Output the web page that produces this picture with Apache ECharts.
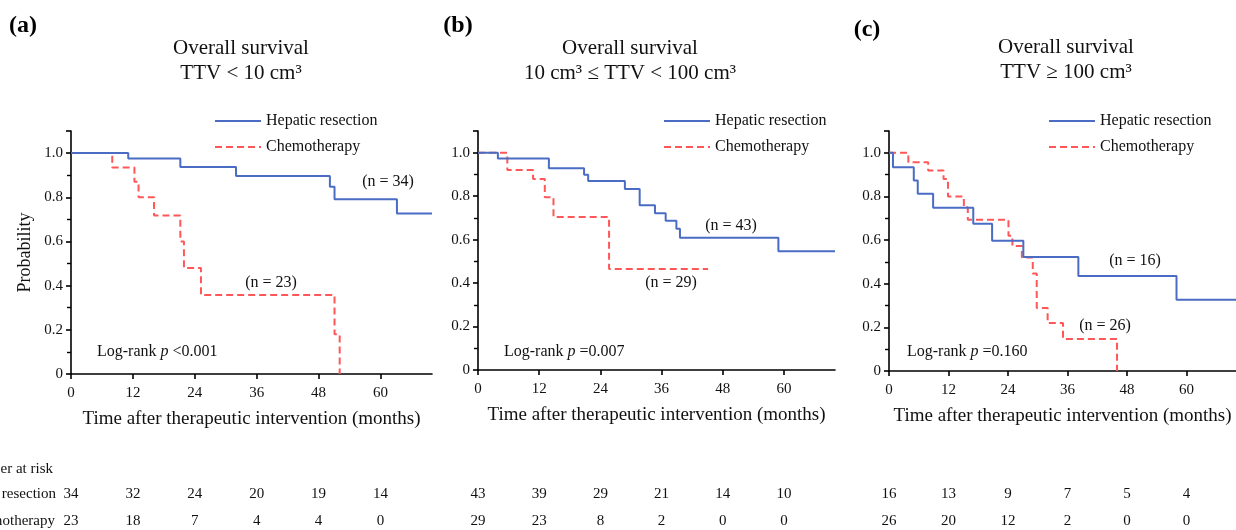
<!DOCTYPE html>
<html>
<head>
<meta charset="utf-8">
<script src="https://cdn.jsdelivr.net/npm/echarts@6/dist/echarts.min.js"></script>
<style>
html,body{margin:0;padding:0;background:#fff;}
#chart{width:1236px;height:530px;}
</style>
</head>
<body>
<div id="chart"></div>
<script>
// ---- Data ----
const monthTicks = [0, 12, 24, 36, 48, 60];
const probTicks = [0, 0.2, 0.4, 0.6, 0.8, 1.0];

// Panel (a) TTV < 10 cm3
const aResTime   = [0, 11.1, 21.2, 32.0, 50.2, 51.1, 63.2, 70];
const aResSurv   = [1.0, 0.975, 0.937, 0.896, 0.848, 0.791, 0.727, 0.727];
const aChemoTime = [0, 8.0, 12.3, 13.1, 16.1, 21.2, 21.9, 25.2, 51.1, 52.1];
const aChemoSurv = [1.0, 0.935, 0.87, 0.80, 0.717, 0.60, 0.48, 0.358, 0.18, 0];

// Panel (b) 10 <= TTV < 100 cm3
const bResTime   = [0, 3.9, 13.9, 20.8, 21.6, 28.8, 31.7, 34.7, 36.8, 38.9, 39.6, 58.9, 70];
const bResSurv   = [1.0, 0.974, 0.928, 0.899, 0.870, 0.833, 0.758, 0.722, 0.687, 0.650, 0.609, 0.546, 0.546];
const bChemoTime = [0, 5.75, 10.8, 13.1, 14.8, 25.7, 45.1];
const bChemoSurv = [1.0, 0.920, 0.879, 0.795, 0.704, 0.465, 0.465];

// Panel (c) TTV >= 100 cm3
const cResTime   = [0, 0.8, 5.0, 5.8, 8.9, 17.0, 20.8, 27.1, 38.2, 58.0, 70];
const cResSurv   = [1.0, 0.934, 0.873, 0.812, 0.748, 0.675, 0.597, 0.522, 0.435, 0.327, 0.327];
const cChemoTime = [0, 3.9, 7.9, 11.0, 11.9, 15.1, 15.9, 24.1, 24.9, 26.8, 29.0, 29.8, 32.0, 35.1, 46.0];
const cChemoSurv = [1.0, 0.957, 0.919, 0.88, 0.80, 0.75, 0.693, 0.62, 0.573, 0.52, 0.447, 0.289, 0.22, 0.147, 0];

// Number at risk
const aRiskRes   = [34, 32, 24, 20, 19, 14];
const aRiskChemo = [23, 18, 7, 4, 4, 0];
const bRiskRes   = [43, 39, 29, 21, 14, 10];
const bRiskChemo = [29, 23, 8, 2, 0, 0];
const cRiskRes   = [16, 13, 9, 7, 5, 4];
const cRiskChemo = [26, 20, 12, 2, 0, 0];

const panelLetters = ['(a)', '(b)', '(c)'];
const titleLine1 = ['Overall survival', 'Overall survival', 'Overall survival'];
const titleLine2 = ['TTV < 10 cm³', '10 cm³ ≤ TTV < 100 cm³', 'TTV ≥ 100 cm³'];
const nResLabels = ['(n = 34)', '(n = 43)', '(n = 16)'];
const nChemoLabels = ['(n = 23)', '(n = 29)', '(n = 26)'];
const pValueText = ['<0.001', '=0.007', '=0.160'];
const seriesNames = ['Hepatic resection', 'Chemotherapy'];
const xTitle = 'Time after therapeutic intervention (months)';

// ---- Build ----
const FONT = '"Liberation Serif", "Times New Roman", serif';
const BLUE = '#4a6cc4';
const RED = '#ff5757';
const zip = (t, s) => t.map((v, i) => [v, s[i]]);

const resData = [zip(aResTime, aResSurv), zip(bResTime, bResSurv), zip(cResTime, cResSurv)];
const chemoData = [zip(aChemoTime, aChemoSurv), zip(bChemoTime, bChemoSurv), zip(cChemoTime, cChemoSurv)];
const riskRes = [aRiskRes, bRiskRes, cRiskRes];
const riskChemo = [aRiskChemo, bRiskChemo, cRiskChemo];

const grids = [
  {left: 71, top: 131, width: 361, height: 243},
  {left: 478, top: 131, width: 357, height: 239},
  {left: 889, top: 131, width: 356, height: 240}
];

const chart = echarts.init(document.getElementById('chart'), null, {renderer: 'canvas'});

const axisLineStyle = {color: '#000', width: 1.6};
const xAxes = grids.map((g, i) => ({
  type: 'value', gridIndex: i, min: 0, max: 70, interval: 12,
  axisLine: {show: true, onZero: false, lineStyle: axisLineStyle},
  axisTick: {show: true, length: 5, inside: false, lineStyle: axisLineStyle, customValues: monthTicks},
  axisLabel: {show: true, margin: 12, color: '#111', fontFamily: FONT, fontSize: 15, customValues: monthTicks},
  splitLine: {show: false},
  name: xTitle, nameLocation: 'middle', nameGap: 36,
  nameTextStyle: {color: '#111', fontFamily: FONT, fontSize: 19}
}));
const yAxes = grids.map((g, i) => ({
  type: 'value', gridIndex: i, min: 0, max: 1.1, interval: 0.2,
  axisLine: {show: true, onZero: false, lineStyle: axisLineStyle},
  axisTick: {show: true, length: 5, lineStyle: axisLineStyle},
  minorTick: {show: true, splitNumber: 2, length: 4, lineStyle: {color: '#000', width: 1.4}},
  axisLabel: {show: true, margin: 8, color: '#111', fontFamily: FONT, fontSize: 15,
    customValues: probTicks,
    formatter: v => (v === 0 ? '0' : v.toFixed(1))},
  splitLine: {show: false},
  name: i === 0 ? 'Probability' : '', nameLocation: 'middle', nameGap: 37,
  nameTextStyle: {color: '#111', fontFamily: FONT, fontSize: 18}
}));

const series = [];
for (let i = 0; i < 3; i++) {
  series.push({
    name: seriesNames[0], type: 'line', step: 'end', symbol: 'none', showSymbol: false,
    xAxisIndex: i, yAxisIndex: i, data: resData[i], z: 3,
    lineStyle: {color: BLUE, width: 2, type: 'solid'}, itemStyle: {color: BLUE}
  });
  series.push({
    name: seriesNames[1], type: 'line', step: 'end', symbol: 'none', showSymbol: false,
    xAxisIndex: i, yAxisIndex: i, data: chemoData[i], z: 2,
    lineStyle: {color: RED, width: 2, type: [7, 4]}, itemStyle: {color: RED}
  });
}

const legendLefts = [214, 663, 1048];
const legends = legendLefts.map(l => ({
  left: l, top: 113, padding: 0, orient: 'vertical', itemWidth: 46, itemHeight: 14, itemGap: 10,
  selectedMode: false,
  itemStyle: {opacity: 0, borderWidth: 0},
  data: seriesNames,
  textStyle: {color: '#111', fontFamily: FONT, fontSize: 16, padding: [0, 0, 0, 0]}
}));

chart.setOption({
  animation: false,
  backgroundColor: '#fff',
  grid: grids.map(g => Object.assign({containLabel: false}, g)),
  xAxis: xAxes,
  yAxis: yAxes,
  legend: legends,
  series: series
});

// ---- Text overlays ----
const txt = (x, y, text, opts) => ({
  type: 'text', x: x, y: y, silent: true,
  style: Object.assign({text: text, fill: '#111', font: '16px ' + FONT,
    textAlign: 'center', textVerticalAlign: 'middle'}, opts || {})
});

const gfx = [];
const letterPos = [[23, 26], [458, 26], [867, 30]];
const titleX = [241, 630, 1066];
const titleY = [[48, 73], [48, 73], [47, 72]];
const nResPos = [[388, 182], [731, 226], [1135, 261]];
const nChemoPos = [[271, 283], [671, 283], [1105, 326]];
const logRankPos = [[97, 352], [504, 352], [907, 352]];

for (let i = 0; i < 3; i++) {
  gfx.push(txt(letterPos[i][0], letterPos[i][1], panelLetters[i], {font: 'bold 24px ' + FONT, fill: '#000'}));
  gfx.push(txt(titleX[i], titleY[i][0], titleLine1[i], {font: '21px ' + FONT}));
  gfx.push(txt(titleX[i], titleY[i][1], titleLine2[i], {font: '21px ' + FONT}));
  gfx.push(txt(nResPos[i][0], nResPos[i][1], nResLabels[i]));
  gfx.push(txt(nChemoPos[i][0], nChemoPos[i][1], nChemoLabels[i]));
  gfx.push({
    type: 'text', x: logRankPos[i][0], y: logRankPos[i][1], silent: true,
    style: {
      text: '{n|Log-rank }{i|p}{n| ' + pValueText[i] + '}',
      textAlign: 'left', textVerticalAlign: 'middle',
      rich: {
        n: {font: '16px ' + FONT, fill: '#111'},
        i: {font: 'italic 16px ' + FONT, fill: '#111'}
      }
    }
  });
  // number at risk
  for (let k = 0; k < monthTicks.length; k++) {
    const px = chart.convertToPixel({xAxisIndex: i}, monthTicks[k]);
    gfx.push(txt(px, 494, String(riskRes[i][k]), {font: '15px ' + FONT}));
    gfx.push(txt(px, 521, String(riskChemo[i][k]), {font: '15px ' + FONT}));
  }
}
gfx.push(txt(53, 469, 'Number at risk', {font: '15px ' + FONT, textAlign: 'right'}));
gfx.push(txt(56, 494, 'Hepatic resection', {font: '15px ' + FONT, textAlign: 'right'}));
gfx.push(txt(55, 521, 'Chemotherapy', {font: '15px ' + FONT, textAlign: 'right'}));

chart.setOption({graphic: {elements: gfx}});
</script>
</body>
</html>
